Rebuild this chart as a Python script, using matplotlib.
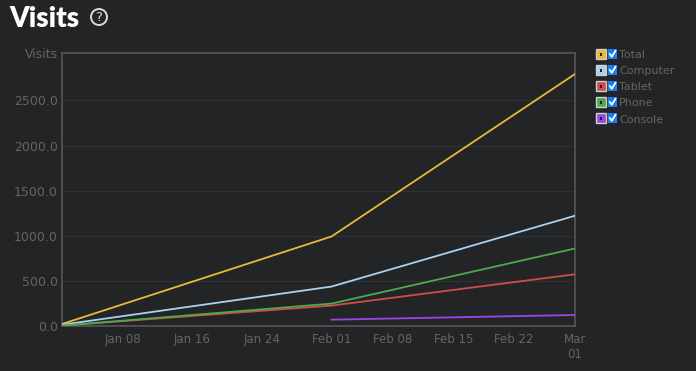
import matplotlib
matplotlib.use("Agg")
import matplotlib.pyplot as plt
import matplotlib.dates as mdates
from datetime import datetime
from matplotlib.patches import Rectangle, Circle

dates = [datetime(2019, 1, 1), datetime(2019, 2, 1), datetime(2019, 3, 1)]
total = [22, 992, 2792]
computer = [14, 437, 1222]
tablet = [4, 226, 573]
phone = [4, 248, 859]
console_dates = [datetime(2019, 2, 1), datetime(2019, 3, 1)]
console = [70, 122]

series_names = ["Total", "Computer", "Tablet", "Phone", "Console"]
colors = ["#e8b93a", "#a9d2f2", "#d24b4b", "#4caa4c", "#9a45e6"]

yticks = [0, 500, 1000, 1500, 2000, 2500]
xtick_dates = [datetime(2019, 1, 8), datetime(2019, 1, 16), datetime(2019, 1, 24),
               datetime(2019, 2, 1), datetime(2019, 2, 8), datetime(2019, 2, 15),
               datetime(2019, 2, 22), datetime(2019, 3, 1)]
xtick_labels = ["Jan 08", "Jan 16", "Jan 24", "Feb 01", "Feb 08", "Feb 15", "Feb 22", "Mar\n01"]

bg = "#232425"
txt = "#646464"
fontfam = ["DejaVu Sans"]

fig = plt.figure(figsize=(6.96, 3.71), dpi=100, facecolor=bg)
ax = fig.add_axes([62 / 696, 1 - 326 / 371, (575 - 62) / 696, (326 - 53) / 371])
ax.set_facecolor(bg)

ax.plot(dates, total, color=colors[0], lw=1.3, zorder=3)
ax.plot(dates, computer, color=colors[1], lw=1.3, zorder=3)
ax.plot(dates, tablet, color=colors[2], lw=1.3, zorder=3)
ax.plot(dates, phone, color=colors[3], lw=1.3, zorder=3)
ax.plot(console_dates, console, color=colors[4], lw=1.3, zorder=3)

ax.set_xlim(dates[0], dates[-1])
ax.set_ylim(0, 3025)
ax.set_yticks(yticks)
ax.set_yticklabels([f"{v:.1f}" for v in yticks], fontsize=9, color=txt, family=fontfam)
ax.set_xticks([mdates.date2num(d) for d in xtick_dates])
ax.set_xticklabels(xtick_labels, fontsize=8.5, color=txt, family=fontfam, linespacing=1.25)
ax.tick_params(axis="both", length=0)
ax.tick_params(axis="y", pad=3)
ax.tick_params(axis="x", pad=5)
ax.grid(axis="y", color="#2f3031", lw=1)
ax.set_axisbelow(True)
for s in ax.spines.values():
    s.set_color("#555657")
    s.set_linewidth(1.2)

fig.text(58 / 696, 1 - 54 / 371, "Visits", ha="right", va="center", fontsize=9,
         color=txt, family=fontfam)

fig.text(9 / 696, 1 - 19 / 371, "Visits", ha="left", va="center", fontsize=20,
         color="white", fontweight="heavy", family=["Lato", "DejaVu Sans"])
fig.patches.append(Circle((99, 371 - 17), 8, transform=None, fill=False,
                          ec="#d8d8d8", lw=1.4))
fig.text(99 / 696, 1 - 17.5 / 371, "?", ha="center", va="center", fontsize=9.5,
         color="#d8d8d8", family=fontfam)

# legend
rows_y = [54, 70, 86, 102, 118]
for name, col, y in zip(series_names, colors, rows_y):
    fig.patches.append(Rectangle((596, 371 - y - 5), 10, 10, transform=None,
                                 fc=col, ec="#cfcfcf", lw=1.0))
    fig.patches.append(Rectangle((600.3, 371 - y - 1.5), 1.4, 3, transform=None,
                                 fc="#222222", ec="none"))
    fig.patches.append(Rectangle((608, 371 - y - 5), 9, 10, transform=None,
                                 fc="#1a7df0", ec="none"))
    fig.lines.append(plt.Line2D([609.8, 611.8, 615.5], [371 - y, 371 - y - 2.8, 371 - y + 3.2],
                                transform=None, color="white", lw=1.3))
    fig.text(619 / 696, 1 - (y + 0.5) / 371, name, ha="left", va="center_baseline", fontsize=8,
             color=txt, family=fontfam)

fig.savefig("out.png", dpi=100, facecolor=bg)
